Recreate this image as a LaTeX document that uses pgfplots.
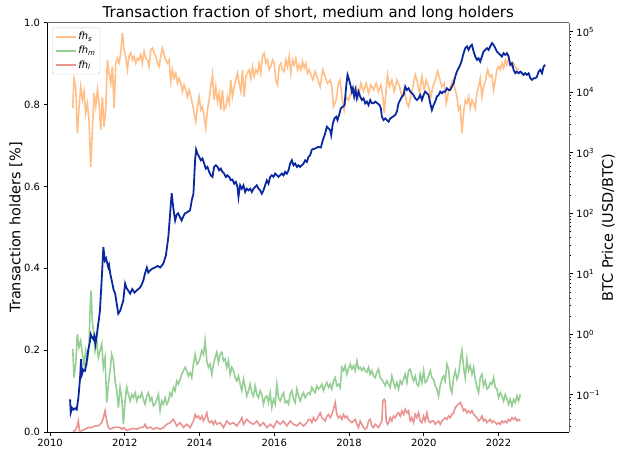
\documentclass[border=0pt]{standalone}
\usepackage{fontspec}
\setmainfont{DejaVu Sans}
\usepackage{pgfplots}
\pgfplotsset{compat=1.18}
\definecolor{cOr}{HTML}{FFBF87}
\definecolor{cGr}{HTML}{95CF95}
\definecolor{cRd}{HTML}{EA9393}
\definecolor{cBl}{RGB}{10,40,160}
\begin{document}
\begin{tikzpicture}
\pgfplotsset{
  common/.style={
    at={(0,0)}, anchor=south west, scale only axis,
    width=522bp, height=409bp,
    xmin=2009.92, xmax=2023.90,
    tick align=outside, major tick length=3.5bp, minor tick length=2bp,
    every tick/.style={black, line width=0.8bp},
    axis line style={line width=0.8bp},
    /pgf/number format/assume math mode=true,
    tick label style={font=\fontsize{10}{12}\selectfont},
    label style={font=\fontsize{14.5}{16}\selectfont},
  }
}
\begin{axis}[common,
  ymin=0, ymax=1,
  axis x line*=bottom, axis y line*=left,
  xtick={2010,2012,2014,2016,2018,2020,2022},
  xticklabel style={/pgf/number format/1000 sep={}},
  ytick={0,0.2,0.4,0.6,0.8,1},
  yticklabel style={/pgf/number format/.cd, fixed, fixed zerofill, precision=1},
  ylabel={Transaction holders [\%]},
  ylabel shift=-5bp,
  title={Transaction fraction of short, medium and long holders},
  title style={font=\fontsize{15}{17}\selectfont, yshift=-7bp},
  legend style={at={(0.0096,0.988)}, anchor=north west, draw=black!20,
    rounded corners=2bp, fill=white, fill opacity=0.8, text opacity=1,
    font=\fontsize{10}{12}\selectfont, inner sep=2.5bp, row sep=1bp},
  legend cell align=left,
  legend image code/.code={\draw[#1] (0bp,0bp) -- (20bp,0bp);},
]
\addplot[cOr, line width=1.6bp] coordinates {
(2010.607,0.791)(2010.643,0.864)(2010.687,0.844)(2010.732,0.730)(2010.777,0.795)(2010.821,0.844)(2010.866,0.811)(2010.911,0.832)(2010.955,0.779)(2011.000,0.803)(2011.044,0.762)(2011.089,0.648)(2011.134,0.738)(2011.178,0.828)(2011.223,0.795)(2011.268,0.836)(2011.312,0.803)(2011.357,0.738)(2011.401,0.819)(2011.446,0.746)(2011.491,0.787)(2011.535,0.909)(2011.580,0.877)(2011.625,0.852)(2011.669,0.893)(2011.714,0.791)(2011.758,0.901)(2011.803,0.913)(2011.848,0.901)(2011.892,0.926)(2011.937,0.975)(2011.982,0.934)(2012.026,0.918)(2012.071,0.885)(2012.115,0.918)(2012.160,0.926)(2012.205,0.909)(2012.249,0.918)(2012.294,0.901)(2012.339,0.913)(2012.383,0.909)(2012.428,0.922)(2012.472,0.901)(2012.517,0.930)(2012.562,0.913)(2012.606,0.909)(2012.651,0.893)(2012.696,0.934)(2012.740,0.938)(2012.785,0.926)(2012.829,0.918)(2012.874,0.901)(2012.919,0.893)(2012.963,0.918)(2013.008,0.938)(2013.053,0.922)(2013.097,0.909)(2013.142,0.901)(2013.186,0.909)(2013.231,0.856)(2013.276,0.885)(2013.320,0.864)(2013.365,0.877)(2013.410,0.852)(2013.454,0.864)(2013.499,0.852)(2013.543,0.832)(2013.588,0.848)(2013.633,0.836)(2013.677,0.819)(2013.722,0.836)(2013.767,0.819)(2013.811,0.803)(2013.856,0.779)(2013.900,0.758)(2013.945,0.795)(2013.990,0.819)(2014.034,0.787)(2014.079,0.795)(2014.124,0.770)(2014.168,0.742)(2014.213,0.787)(2014.257,0.811)(2014.302,0.844)(2014.347,0.873)(2014.391,0.811)(2014.436,0.844)(2014.481,0.807)(2014.525,0.828)(2014.570,0.787)(2014.614,0.836)(2014.659,0.787)(2014.704,0.795)(2014.748,0.819)(2014.793,0.803)(2014.838,0.860)(2014.882,0.819)(2014.927,0.844)(2014.971,0.860)(2015.016,0.877)(2015.061,0.852)(2015.105,0.832)(2015.150,0.885)(2015.195,0.819)(2015.239,0.868)(2015.284,0.877)(2015.328,0.885)(2015.373,0.864)(2015.418,0.893)(2015.462,0.868)(2015.507,0.885)(2015.552,0.877)(2015.596,0.901)(2015.641,0.877)(2015.685,0.918)(2015.730,0.926)(2015.775,0.901)(2015.819,0.909)(2015.864,0.885)(2015.909,0.893)(2015.953,0.909)(2015.998,0.901)(2016.042,0.860)(2016.087,0.848)(2016.132,0.893)(2016.176,0.901)(2016.221,0.885)(2016.266,0.881)(2016.310,0.909)(2016.355,0.893)(2016.399,0.918)(2016.444,0.877)(2016.489,0.909)(2016.533,0.897)(2016.578,0.913)(2016.623,0.885)(2016.667,0.897)(2016.712,0.885)(2016.757,0.905)(2016.801,0.889)(2016.846,0.901)(2016.890,0.877)(2016.935,0.885)
(2017.033,0.860)(2017.095,0.881)(2017.158,0.864)(2017.229,0.844)(2017.300,0.885)(2017.363,0.868)(2017.425,0.852)(2017.497,0.860)(2017.541,0.844)(2017.586,0.795)(2017.657,0.811)(2017.720,0.852)(2017.764,0.860)(2017.809,0.819)(2017.872,0.787)(2017.925,0.819)(2017.988,0.811)(2018.050,0.828)(2018.122,0.836)(2018.193,0.844)(2018.255,0.819)(2018.318,0.852)(2018.389,0.832)(2018.461,0.852)(2018.523,0.828)(2018.586,0.848)(2018.657,0.836)(2018.728,0.852)(2018.791,0.832)(2018.853,0.848)(2018.907,0.819)(2018.943,0.779)(2018.996,0.836)(2019.032,0.873)(2019.085,0.844)(2019.148,0.860)(2019.210,0.832)(2019.282,0.860)(2019.353,0.844)(2019.416,0.819)(2019.478,0.836)(2019.550,0.803)(2019.594,0.795)(2019.657,0.819)(2019.728,0.852)(2019.773,0.873)(2019.817,0.860)(2019.889,0.828)(2019.951,0.868)(2020.014,0.836)(2020.067,0.860)(2020.130,0.844)(2020.192,0.819)(2020.246,0.844)(2020.308,0.860)(2020.371,0.881)(2020.424,0.864)(2020.487,0.844)(2020.549,0.852)(2020.603,0.803)(2020.665,0.832)(2020.728,0.848)(2020.781,0.860)(2020.844,0.836)(2020.888,0.819)(2020.933,0.787)(2020.978,0.795)(2021.022,0.730)(2021.067,0.779)(2021.111,0.811)(2021.156,0.803)(2021.201,0.819)(2021.245,0.791)(2021.290,0.811)(2021.335,0.803)(2021.379,0.791)(2021.424,0.828)(2021.468,0.844)(2021.513,0.864)(2021.558,0.819)(2021.602,0.844)(2021.647,0.856)(2021.709,0.885)(2021.763,0.868)(2021.825,0.873)(2021.870,0.836)(2021.915,0.860)(2021.959,0.885)(2022.004,0.893)(2022.049,0.885)(2022.093,0.901)(2022.138,0.889)(2022.182,0.909)(2022.227,0.897)(2022.272,0.913)(2022.316,0.901)(2022.361,0.893)(2022.405,0.901)(2022.450,0.893)(2022.495,0.885)(2022.539,0.889)
};
\addlegendentry{\textit{fh}\textsubscript{\textit{s}}}
\addplot[cGr, line width=1.6bp] coordinates {
(2010.607,0.203)(2010.643,0.133)(2010.687,0.166)(2010.732,0.239)(2010.777,0.207)(2010.821,0.223)(2010.866,0.190)(2010.911,0.166)(2010.955,0.199)(2011.000,0.174)(2011.044,0.207)(2011.070,0.297)(2011.100,0.346)(2011.130,0.272)(2011.161,0.248)(2011.205,0.199)(2011.250,0.223)(2011.294,0.182)(2011.339,0.199)(2011.384,0.215)(2011.428,0.158)(2011.473,0.182)(2011.518,0.072)(2011.562,0.117)(2011.607,0.150)(2011.651,0.190)(2011.696,0.174)(2011.741,0.125)(2011.785,0.101)(2011.830,0.060)(2011.875,0.109)(2011.919,0.084)(2011.964,0.019)(2012.008,0.076)(2012.053,0.109)(2012.098,0.092)(2012.142,0.076)(2012.187,0.092)(2012.232,0.084)(2012.276,0.096)(2012.321,0.076)(2012.365,0.088)(2012.410,0.084)(2012.455,0.096)(2012.499,0.080)(2012.544,0.068)(2012.589,0.088)(2012.633,0.096)(2012.678,0.076)(2012.722,0.084)(2012.767,0.064)(2012.812,0.068)(2012.856,0.080)(2012.901,0.092)(2012.946,0.052)(2012.990,0.076)(2013.035,0.068)(2013.079,0.084)(2013.124,0.068)(2013.169,0.076)(2013.213,0.096)(2013.258,0.088)(2013.303,0.109)(2013.347,0.101)(2013.392,0.125)(2013.436,0.117)(2013.481,0.129)(2013.526,0.141)(2013.570,0.150)(2013.615,0.158)(2013.660,0.150)(2013.704,0.137)(2013.749,0.145)(2013.793,0.133)(2013.838,0.166)(2013.883,0.190)(2013.927,0.166)(2013.972,0.170)(2014.017,0.182)(2014.061,0.199)(2014.106,0.190)(2014.150,0.223)(2014.195,0.174)(2014.240,0.158)(2014.284,0.166)(2014.329,0.141)(2014.374,0.166)(2014.418,0.182)(2014.463,0.195)(2014.507,0.170)(2014.552,0.190)(2014.597,0.195)(2014.641,0.174)(2014.686,0.178)(2014.731,0.158)(2014.775,0.174)(2014.820,0.141)(2014.864,0.158)(2014.909,0.150)(2014.954,0.133)(2014.998,0.125)(2015.043,0.137)(2015.088,0.117)(2015.132,0.101)(2015.177,0.129)(2015.221,0.109)(2015.266,0.088)(2015.311,0.101)(2015.355,0.117)(2015.400,0.096)(2015.445,0.088)(2015.489,0.113)(2015.534,0.092)(2015.578,0.084)(2015.623,0.101)(2015.668,0.092)(2015.712,0.068)(2015.757,0.084)(2015.802,0.088)(2015.846,0.072)(2015.891,0.096)(2015.935,0.060)(2015.980,0.080)(2016.025,0.068)(2016.069,0.117)(2016.114,0.084)(2016.159,0.076)(2016.203,0.088)(2016.248,0.096)(2016.292,0.072)(2016.337,0.076)(2016.382,0.068)(2016.426,0.092)(2016.471,0.101)(2016.516,0.080)(2016.560,0.072)(2016.605,0.105)(2016.649,0.088)(2016.694,0.076)(2016.739,0.088)(2016.783,0.096)(2016.828,0.084)(2016.873,0.092)(2016.917,0.096)
(2016.961,0.092)(2017.006,0.109)(2017.050,0.101)(2017.095,0.096)(2017.140,0.113)(2017.184,0.105)(2017.229,0.109)(2017.274,0.117)(2017.318,0.101)(2017.363,0.113)(2017.408,0.121)(2017.452,0.109)(2017.497,0.117)(2017.541,0.105)(2017.586,0.125)(2017.631,0.133)(2017.675,0.113)(2017.720,0.117)(2017.765,0.109)(2017.809,0.158)(2017.854,0.150)(2017.898,0.162)(2017.943,0.141)(2017.988,0.154)(2018.032,0.166)(2018.077,0.154)(2018.122,0.162)(2018.166,0.150)(2018.211,0.174)(2018.255,0.154)(2018.300,0.158)(2018.345,0.150)(2018.389,0.158)(2018.434,0.150)(2018.479,0.146)(2018.523,0.158)(2018.568,0.141)(2018.612,0.150)(2018.657,0.137)(2018.702,0.133)(2018.746,0.146)(2018.791,0.154)(2018.835,0.133)(2018.880,0.129)(2018.925,0.121)(2018.969,0.113)(2019.014,0.125)(2019.059,0.117)(2019.103,0.109)(2019.148,0.137)(2019.193,0.121)(2019.237,0.109)(2019.282,0.121)(2019.326,0.105)(2019.371,0.125)(2019.416,0.117)(2019.460,0.129)(2019.505,0.141)(2019.550,0.121)(2019.594,0.150)(2019.639,0.154)(2019.683,0.137)(2019.728,0.125)(2019.773,0.137)(2019.817,0.117)(2019.862,0.113)(2019.906,0.141)(2019.951,0.121)(2019.996,0.150)(2020.040,0.121)(2020.085,0.125)(2020.130,0.137)(2020.174,0.150)(2020.219,0.133)(2020.263,0.129)(2020.308,0.113)(2020.353,0.105)(2020.397,0.088)(2020.442,0.113)(2020.487,0.129)(2020.531,0.137)(2020.576,0.125)(2020.620,0.166)(2020.665,0.154)(2020.710,0.109)(2020.754,0.096)(2020.799,0.133)(2020.844,0.150)(2020.888,0.129)(2020.933,0.141)(2020.978,0.174)(2021.022,0.199)(2021.067,0.158)(2021.111,0.133)(2021.156,0.178)(2021.201,0.150)(2021.245,0.162)(2021.290,0.141)(2021.335,0.158)(2021.379,0.129)(2021.424,0.109)(2021.468,0.096)(2021.513,0.133)(2021.558,0.141)(2021.602,0.113)(2021.647,0.125)(2021.692,0.105)(2021.736,0.109)(2021.781,0.121)(2021.826,0.117)(2021.870,0.133)(2021.915,0.109)(2021.959,0.105)(2022.004,0.084)(2022.049,0.096)(2022.093,0.088)(2022.138,0.076)(2022.182,0.092)(2022.227,0.080)(2022.272,0.068)(2022.316,0.080)(2022.361,0.064)(2022.405,0.080)(2022.450,0.072)(2022.495,0.088)(2022.539,0.076)(2022.584,0.092)
};
\addlegendentry{\textit{fh}\textsubscript{\textit{m}}}
\addplot[cRd, line width=1.6bp] coordinates {
(2010.607,0.003)(2010.670,0.003)(2010.714,0.011)(2010.759,0.027)(2010.786,0.003)(2010.848,0.003)(2010.937,0.007)(2011.027,0.011)(2011.116,0.011)(2011.205,0.015)(2011.294,0.015)(2011.384,0.023)(2011.428,0.035)(2011.473,0.052)(2011.518,0.027)(2011.562,0.011)(2011.607,0.007)(2011.696,0.011)(2011.785,0.012)(2011.875,0.011)(2011.919,0.007)(2011.964,0.011)(2012.053,0.004)(2012.142,0.007)(2012.232,0.009)(2012.321,0.007)(2012.410,0.011)(2012.499,0.012)(2012.544,0.019)(2012.589,0.009)(2012.678,0.012)(2012.767,0.007)(2012.856,0.011)(2012.946,0.007)(2013.035,0.011)(2013.124,0.019)(2013.213,0.023)(2013.303,0.031)(2013.347,0.023)(2013.392,0.015)(2013.481,0.023)(2013.570,0.011)(2013.660,0.019)(2013.749,0.011)(2013.838,0.027)(2013.883,0.043)(2013.927,0.035)(2013.972,0.039)(2014.017,0.031)(2014.061,0.039)(2014.106,0.027)(2014.150,0.035)(2014.195,0.047)(2014.240,0.027)(2014.284,0.023)(2014.329,0.027)(2014.374,0.019)(2014.418,0.027)(2014.463,0.019)(2014.552,0.023)(2014.641,0.011)(2014.731,0.027)(2014.820,0.019)(2014.909,0.023)(2014.998,0.015)(2015.088,0.027)(2015.132,0.035)(2015.177,0.019)(2015.266,0.031)(2015.355,0.023)(2015.445,0.019)(2015.534,0.027)(2015.623,0.015)(2015.712,0.023)(2015.802,0.011)(2015.891,0.019)(2015.980,0.011)(2016.069,0.027)(2016.159,0.019)(2016.248,0.027)(2016.337,0.015)(2016.426,0.027)(2016.516,0.019)(2016.605,0.015)(2016.694,0.023)(2016.783,0.015)(2016.873,0.023)(2016.917,0.031)
(2016.961,0.031)(2017.006,0.023)(2017.050,0.035)(2017.095,0.027)(2017.140,0.031)(2017.184,0.039)(2017.229,0.047)(2017.274,0.035)(2017.318,0.031)(2017.363,0.027)(2017.408,0.039)(2017.452,0.043)(2017.497,0.035)(2017.541,0.043)(2017.586,0.056)(2017.631,0.072)(2017.675,0.043)(2017.720,0.035)(2017.765,0.039)(2017.809,0.031)(2017.854,0.043)(2017.898,0.035)(2017.943,0.039)(2017.988,0.031)(2018.032,0.027)(2018.077,0.023)(2018.122,0.027)(2018.166,0.031)(2018.211,0.019)(2018.255,0.011)(2018.300,0.027)(2018.345,0.019)(2018.389,0.011)(2018.434,0.007)(2018.479,0.011)(2018.523,0.027)(2018.568,0.031)(2018.612,0.015)(2018.657,0.011)(2018.702,0.019)(2018.746,0.015)(2018.791,0.011)(2018.835,0.019)(2018.880,0.027)(2018.907,0.076)(2018.943,0.080)(2018.969,0.076)(2018.996,0.027)(2019.032,0.019)(2019.059,0.023)(2019.103,0.035)(2019.148,0.027)(2019.193,0.039)(2019.237,0.035)(2019.282,0.043)(2019.326,0.047)(2019.371,0.039)(2019.416,0.052)(2019.460,0.043)(2019.505,0.056)(2019.550,0.047)(2019.594,0.052)(2019.639,0.027)(2019.683,0.035)(2019.728,0.023)(2019.773,0.043)(2019.817,0.035)(2019.862,0.047)(2019.906,0.027)(2019.951,0.023)(2019.996,0.039)(2020.040,0.027)(2020.085,0.047)(2020.130,0.027)(2020.174,0.023)(2020.219,0.027)(2020.263,0.027)(2020.308,0.019)(2020.353,0.023)(2020.397,0.027)(2020.442,0.019)(2020.487,0.027)(2020.531,0.031)(2020.576,0.035)(2020.620,0.031)(2020.665,0.039)(2020.710,0.035)(2020.754,0.043)(2020.799,0.047)(2020.844,0.060)(2020.888,0.064)(2020.933,0.068)(2020.978,0.072)(2021.022,0.064)(2021.067,0.052)(2021.111,0.056)(2021.156,0.047)(2021.201,0.052)(2021.245,0.047)(2021.290,0.052)(2021.335,0.043)(2021.379,0.039)(2021.424,0.035)(2021.468,0.027)(2021.513,0.031)(2021.558,0.039)(2021.602,0.027)(2021.647,0.031)(2021.692,0.023)(2021.736,0.027)(2021.781,0.031)(2021.826,0.023)(2021.870,0.027)(2021.915,0.023)(2021.959,0.019)(2022.004,0.023)(2022.049,0.019)(2022.093,0.027)(2022.138,0.023)(2022.182,0.027)(2022.227,0.023)(2022.272,0.031)(2022.316,0.027)(2022.361,0.035)(2022.405,0.031)(2022.450,0.035)(2022.495,0.027)(2022.539,0.031)(2022.584,0.027)
};
\addlegendentry{\textit{fh}\textsubscript{\textit{l}}}
\end{axis}
\begin{axis}[common,
  ymode=log, ymin=0.0243, ymax=1.41e5,
  axis x line=none, axis y line*=right,
  y axis line style={black!60, line width=1bp},
  ytick={0.1,1,10,100,1000,10000,100000},
  yticklabels={10\textsuperscript{−1},10\textsuperscript{0},10\textsuperscript{1},10\textsuperscript{2},10\textsuperscript{3},10\textsuperscript{4},10\textsuperscript{5}},
  minor ytick={0.03,0.04,0.05,0.06,0.07,0.08,0.09,0.2,0.3,0.4,0.5,0.6,0.7,0.8,0.9,2,3,4,5,6,7,8,9,20,30,40,50,60,70,80,90,200,300,400,500,600,700,800,900,2000,3000,4000,5000,6000,7000,8000,9000,20000,30000,40000,50000,60000,70000,80000,90000},
  ylabel={BTC Price (USD/BTC)},
  ylabel shift=-5bp,
]
\addplot[cBl, line width=1.8bp] coordinates {
(2010.536,0.084)(2010.554,0.051)(2010.589,0.061)(2010.625,0.057)(2010.670,0.060)(2010.714,0.057)(2010.759,0.090)(2010.804,0.19)(2010.830,0.39)(2010.857,0.22)(2010.893,0.26)(2010.937,0.25)(2010.982,0.36)(2011.027,0.57)(2011.071,0.78)(2011.089,1.0)(2011.125,0.89)(2011.161,0.83)(2011.187,0.94)(2011.214,0.69)(2011.250,0.94)(2011.277,1.30)(2011.303,1.67)(2011.335,2.45)(2011.386,8.7)(2011.427,27.5)(2011.468,16.6)(2011.500,18)(2011.560,12.8)(2011.580,14)(2011.611,10.1)(2011.652,7.7)(2011.700,5.5)(2011.744,4.7)(2011.785,3.2)(2011.826,2.19)(2011.877,2.45)(2011.920,3.0)(2011.959,3.6)(2012.010,6.9)(2012.050,5.8)(2012.092,5.3)(2012.143,4.7)(2012.200,5.6)(2012.260,4.9)(2012.316,5.3)(2012.408,5.9)(2012.460,6.8)(2012.500,7.9)(2012.541,10.1)(2012.592,12.7)(2012.630,10.5)(2012.674,11.3)(2012.740,12.2)(2012.807,12.7)(2012.880,13.5)(2012.950,12.7)(2013.032,14.8)(2013.100,20)(2013.165,40)(2013.256,214)(2013.297,125)(2013.348,76)(2013.390,95)(2013.430,100)(2013.470,88)(2013.522,76)(2013.570,90)(2013.614,100)(2013.680,105)(2013.747,112)(2013.793,164)(2013.838,211)(2013.882,753)(2013.909,1132)(2013.945,973)(2013.990,857)(2014.034,753)(2014.079,803)(2014.124,664)(2014.168,548)(2014.213,584)(2014.257,483)(2014.302,425)(2014.347,399)(2014.391,584)(2014.436,622)(2014.481,584)(2014.525,514)(2014.570,548)(2014.614,483)(2014.659,453)(2014.704,399)(2014.748,425)(2014.793,399)(2014.838,352)(2014.882,361)(2014.927,309)(2014.971,330)(2015.016,272)(2015.043,186)(2015.087,290)(2015.132,255)(2015.177,290)(2015.221,225)(2015.266,255)(2015.311,240)(2015.355,255)(2015.400,225)(2015.444,255)(2015.489,272)(2015.534,290)(2015.578,255)(2015.623,240)(2015.668,211)(2015.712,240)(2015.757,290)(2015.801,352)(2015.846,309)(2015.891,399)(2015.935,425)(2015.980,399)(2016.025,453)(2016.069,425)(2016.114,399)(2016.159,425)(2016.203,453)(2016.248,425)(2016.292,483)(2016.337,453)(2016.382,514)(2016.426,664)(2016.471,753)(2016.516,622)(2016.560,664)(2016.605,584)(2016.649,622)(2016.694,584)(2016.739,622)(2016.783,664)(2016.828,753)(2016.873,708)(2016.917,857)(2016.962,912)
(2017.006,1132)(2017.095,1177)(2017.184,1254)(2017.247,1222)(2017.300,1618)(2017.363,2085)(2017.408,2692)(2017.452,2523)(2017.497,2371)(2017.524,1959)(2017.568,3055)(2017.613,3698)(2017.657,3945)(2017.693,3473)(2017.747,4477)(2017.782,5420)(2017.836,5777)(2017.881,6152)(2017.925,12380)(2017.961,19360)(2018.005,15990)(2018.050,12380)(2018.077,10250)(2018.104,11640)(2018.139,8480)(2018.175,10920)(2018.211,7950)(2018.255,10250)(2018.300,8480)(2018.345,7450)(2018.389,7950)(2018.434,6560)(2018.479,7000)(2018.523,6150)(2018.568,7450)(2018.612,6560)(2018.657,6560)(2018.702,7000)(2018.764,6560)(2018.818,6150)(2018.853,5420)(2018.880,3945)(2018.925,3473)(2018.969,3698)(2019.014,3473)(2019.059,3260)(2019.103,3698)(2019.175,3945)(2019.237,4207)(2019.282,4775)(2019.326,6560)(2019.371,7450)(2019.416,8480)(2019.460,9020)(2019.505,12380)(2019.550,10920)(2019.594,11640)(2019.639,10250)(2019.683,9620)(2019.728,9020)(2019.773,7950)(2019.817,7450)(2019.862,7950)(2019.906,9020)(2019.951,7450)(2019.996,9020)(2020.040,10250)(2020.085,9620)(2020.130,9020)(2020.174,6560)(2020.219,5080)(2020.263,6150)(2020.308,7000)(2020.353,8480)(2020.397,9020)(2020.442,10250)(2020.487,9620)(2020.531,10250)(2020.576,10250)(2020.620,11640)(2020.665,10920)(2020.710,10920)(2020.754,12380)(2020.799,14090)(2020.844,18160)(2020.888,21980)(2020.933,24950)(2020.978,28380)(2021.022,34360)(2021.067,44260)(2021.111,53580)(2021.156,57150)(2021.201,50230)(2021.245,57150)(2021.290,60810)(2021.335,47210)(2021.379,39000)(2021.424,34360)(2021.468,36560)(2021.513,32210)(2021.558,39000)(2021.602,47210)(2021.647,50230)(2021.692,53580)(2021.736,50230)(2021.781,57150)(2021.826,64860)(2021.870,60810)(2021.915,53580)(2021.959,47210)(2022.004,44260)(2022.049,41590)(2022.093,39000)(2022.138,44260)(2022.182,41590)(2022.227,44260)(2022.272,39000)(2022.316,28380)(2022.361,30200)(2022.405,23440)(2022.450,20650)(2022.495,21980)(2022.539,20650)(2022.584,21980)(2022.629,20650)(2022.673,19360)(2022.718,20650)(2022.763,19360)(2022.807,20650)(2022.852,17060)(2022.896,16000)(2022.941,17060)(2022.986,17060)(2023.030,18160)(2023.075,21980)(2023.120,23440)(2023.164,20650)(2023.209,26600)(2023.254,28380)
};
\draw[black!60, line width=1bp] (rel axis cs:0,1) -- (rel axis cs:1,1);
\end{axis}
\pgfresetboundingbox
\path (-47bp,-22.3bp) rectangle (575.5bp,431.7bp);
\end{tikzpicture}
\end{document}
